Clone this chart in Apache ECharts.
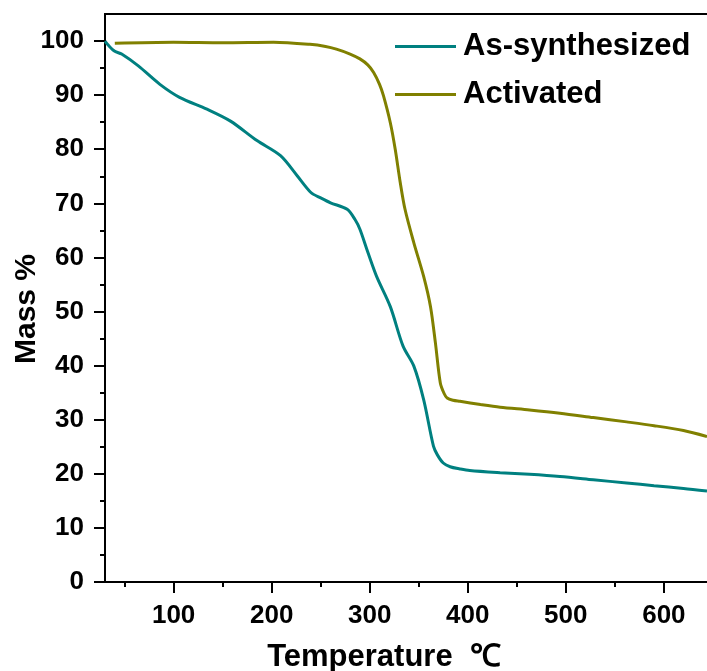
<!DOCTYPE html>
<html>
<head>
<meta charset="utf-8">
<script src="https://cdn.jsdelivr.net/npm/echarts@6/dist/echarts.min.js"></script>
<style>
  html, body { margin: 0; padding: 0; background: #fff; }
  #chart { width: 707px; height: 671px; }
</style>
</head>
<body>
<div id="chart"></div>
<script>
// TGA curves: temperature (℃) vs remaining mass (%)
const asSynTemp = [30, 33, 40, 47, 64, 86, 106, 134, 158, 185, 209, 226, 240, 250, 260, 277, 285, 290, 298, 307, 321, 334, 345, 355, 365, 369, 375, 382, 392, 402, 433, 463, 494, 528, 562, 590, 620, 644];
const asSynMass = [100, 99.3, 98.1, 97.6, 95.4, 92.0, 89.6, 87.4, 85.2, 81.6, 78.8, 75.1, 72.0, 71.0, 70.1, 68.9, 67.0, 65.2, 61.0, 56.5, 50.9, 43.6, 39.9, 33.7, 25.1, 23.5, 22.0, 21.3, 20.9, 20.6, 20.2, 19.9, 19.5, 18.9, 18.3, 17.8, 17.3, 16.8];

const activTemp = [40, 100, 150, 202, 239, 255, 266, 280, 290, 298, 304, 310, 314, 321, 326, 331, 336, 345, 355, 362, 367, 372, 376, 379, 385, 392, 413, 433, 463, 494, 528, 562, 590, 620, 644];
const activMass = [99.6, 99.8, 99.7, 99.8, 99.4, 99.0, 98.5, 97.6, 96.7, 95.6, 94.2, 92.0, 89.9, 84.9, 80.0, 74.0, 68.9, 62.7, 56.5, 50.9, 44.2, 36.8, 34.8, 34.0, 33.6, 33.4, 32.8, 32.3, 31.8, 31.2, 30.4, 29.6, 28.9, 28.0, 26.9];

const seriesNames = ['As-synthesized', 'Activated'];
const seriesColors = ['#008080', '#808000'];

const xMajorTicks = [100, 200, 300, 400, 500, 600];
const xMinorTicks = [50, 150, 250, 350, 450, 550];
const yMajorTicks = [0, 10, 20, 30, 40, 50, 60, 70, 80, 90, 100];
const yMinorTicks = [5, 15, 25, 35, 45, 55, 65, 75, 85, 95];

const FONT = '"Liberation Sans", Arial, sans-serif';
const zip = (xs, ys) => xs.map((x, i) => [x, ys[i]]);

const chart = echarts.init(document.getElementById('chart'), null, { renderer: 'canvas' });

const axisBase = {
  type: 'value',
  min: 30,
  max: 644,
  splitLine: { show: false },
  axisLine: { show: true, onZero: false, lineStyle: { color: '#000', width: 2 } }
};
const yBase = {
  type: 'value',
  min: 0,
  max: 105,
  splitLine: { show: false },
  axisLine: { show: true, onZero: false, lineStyle: { color: '#000', width: 2 } }
};

chart.setOption({
  backgroundColor: '#fff',
  animation: false,
  grid: { left: 105, right: 0, top: 14, bottom: 89, containLabel: false, outerBoundsMode: 'none' },
  legend: {
    left: 395,
    top: 31,
    padding: 0,
    orient: 'vertical',
    icon: 'rect',
    itemWidth: 61,
    itemHeight: 3,
    itemGap: 17,
    data: seriesNames,
    textStyle: { fontFamily: FONT, fontWeight: 'bold', fontSize: 31, color: '#000', padding: [0, 0, 0, 2] }
  },
  xAxis: [
    Object.assign({}, axisBase, {
      position: 'bottom',
      name: 'Temperature  ℃',
      nameLocation: 'middle',
      nameGap: 60,
      nameMoveOverlap: false,
      nameTextStyle: { fontFamily: FONT, fontWeight: 'bold', fontSize: 31, color: '#000', padding: [0, 44, 0, 0] },
      axisTick: { show: true, inside: false, length: 11, lineStyle: { color: '#000', width: 2 }, customValues: xMajorTicks },
      axisLabel: { show: true, margin: 21, fontFamily: FONT, fontWeight: 'bold', fontSize: 26, color: '#000', customValues: xMajorTicks }
    }),
    Object.assign({}, axisBase, {
      position: 'bottom',
      axisTick: { show: true, inside: false, length: 5, lineStyle: { color: '#000', width: 2 }, customValues: xMinorTicks },
      axisLabel: { show: false }
    }),
    Object.assign({}, axisBase, {
      position: 'top',
      axisTick: { show: false },
      axisLabel: { show: false }
    })
  ],
  yAxis: [
    Object.assign({}, yBase, {
      position: 'left',
      name: 'Mass %',
      nameLocation: 'middle',
      nameGap: 63,
      nameMoveOverlap: false,
      nameTextStyle: { fontFamily: FONT, fontWeight: 'bold', fontSize: 30, color: '#000', padding: [0, 22, 0, 0] },
      axisTick: { show: true, inside: false, length: 11, lineStyle: { color: '#000', width: 2 }, customValues: yMajorTicks },
      axisLabel: { show: true, margin: 21, fontFamily: FONT, fontWeight: 'bold', fontSize: 26, color: '#000', customValues: yMajorTicks }
    }),
    Object.assign({}, yBase, {
      position: 'left',
      axisTick: { show: true, inside: false, length: 5, lineStyle: { color: '#000', width: 2 }, customValues: yMinorTicks },
      axisLabel: { show: false }
    })
  ],
  series: [
    {
      name: seriesNames[0],
      type: 'line',
      xAxisIndex: 0,
      yAxisIndex: 0,
      data: zip(asSynTemp, asSynMass),
      symbol: 'none',
      smooth: 0.3,
      color: seriesColors[0],
      lineStyle: { color: seriesColors[0], width: 3 }
    },
    {
      name: seriesNames[1],
      type: 'line',
      xAxisIndex: 0,
      yAxisIndex: 0,
      data: zip(activTemp, activMass),
      symbol: 'none',
      smooth: 0.3,
      color: seriesColors[1],
      lineStyle: { color: seriesColors[1], width: 3 }
    }
  ]
});
</script>
</body>
</html>
